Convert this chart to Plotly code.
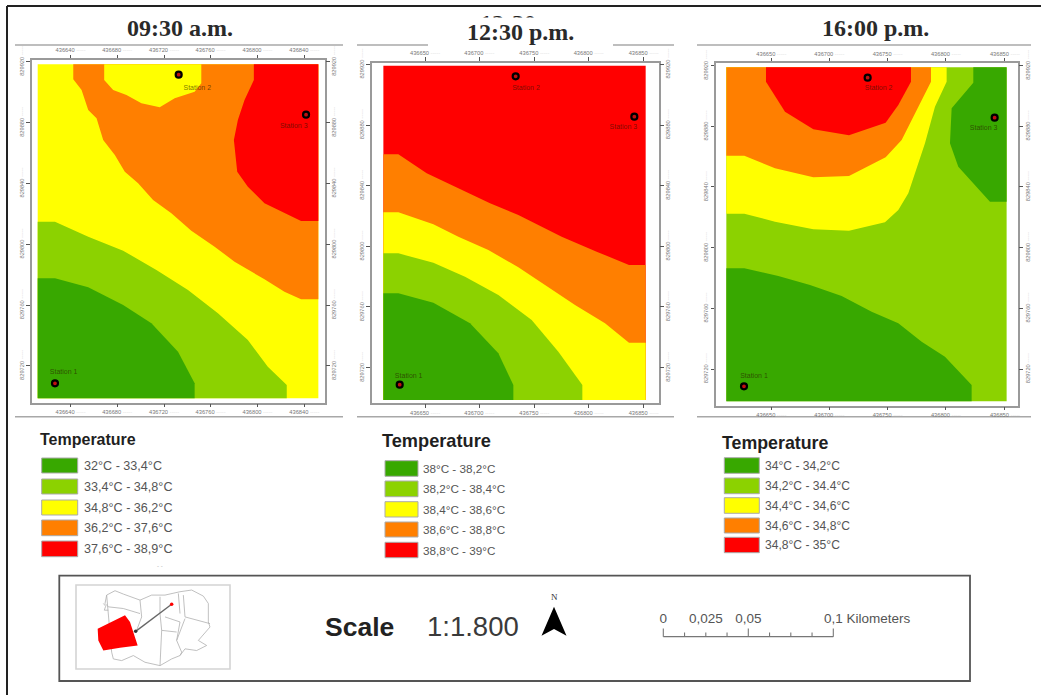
import plotly.graph_objects as go

W, H = 1041, 695
GREEN, LIME, YEL, ORG, RED = "#38A800", "#8CD200", "#FFFF00", "#FF7F00", "#FF0000"
CLASS_COLORS = [GREEN, LIME, YEL, ORG, RED]

# ---------- data: contours, in each map's grid units ----------
p1_rect = [(68, 73), (912, 73), (912, 1075), (68, 1075)]
p1_orange = [(175,73),(175,118),(200,150),(220,210),(245,235),(265,300),(300,345),(330,395),(370,430),(415,480),
             (470,520),(530,572),(600,620),(660,665),(750,718),(810,755),(860,778),(912,778),(912,73)]
p1_yellow_hole = [(268,73),(268,120),(295,150),(335,165),(380,190),(435,202),(480,175),(540,155),(560,130),(560,73)]
p1_red = [(718,73),(718,120),(690,180),(670,240),(658,300),(668,395),(700,440),(750,490),(860,543),(912,543),(912,73)]
p1_lime = [(68,545),(120,545),(220,590),(325,632),(425,690),(520,750),(610,820),(700,900),(760,980),(817,1035),(817,1075),(68,1075)]
p1_green = [(68,715),(120,715),(220,742),(325,795),(410,850),(490,935),(540,1030),(540,1075),(68,1075)]
p1_layers = [(p1_rect, YEL), (p1_orange, ORG), (p1_yellow_hole, YEL), (p1_red, RED), (p1_lime, LIME), (p1_green, GREEN)]
p1_stations = [(120,1030),(492,104),(875,224)]
p1_station_labels = [(146,998),(548,145),(838,258)]

p2_rect = [(85,77),(872,77),(872,1080),(85,1080)]
p2_orange = [(85,343),(130,343),(215,400),(310,445),(405,490),(490,525),(620,590),(725,635),(822,675),(872,675),(872,1080),(85,1080)]
p2_yellow = [(85,517),(130,517),(235,553),(310,590),(400,630),(490,682),(570,735),(660,795),(750,850),(822,908),(872,908),(872,1080),(85,1080)]
p2_lime = [(85,640),(130,640),(235,668),(330,710),(430,765),(530,840),(610,935),(682,1035),(682,1080),(85,1080)]
p2_green = [(85,760),(130,760),(235,788),(345,850),(430,940),(475,1035),(475,1080),(85,1080)]
p2_layers = [(p2_rect, RED), (p2_orange, ORG), (p2_yellow, YEL), (p2_lime, LIME), (p2_green, GREEN)]
p2_stations = [(134,1034),(482,109),(838,230)]
p2_station_labels = [(161,1010),(513,145),(805,261)]

p3_rect = [(94,82),(935,82),(935,1084),(94,1084)]
p3_yellow = [(94,521),(148,521),(240,545),(355,568),(462,572),(570,547),(610,510),(640,460),(660,400),(690,310),(720,200),(755,125),(755,82),(94,82)]
p3_orange = [(94,347),(148,347),(240,385),(355,412),(462,408),(572,352),(620,300),(680,180),(708,125),(708,82),(94,82)]
p3_red = [(213,82),(213,125),(270,215),(355,268),(462,286),(572,248),(610,195),(648,125),(648,82)]
p3_green_ne = [(835,82),(835,128),(770,205),(765,310),(790,380),(885,485),(935,485),(935,82)]
p3_green_sw = [(94,685),(148,685),(250,708),(345,735),(440,768),(530,815),(610,850),(680,905),(750,950),(830,1035),(830,1084),(94,1084)]
p3_layers = [(p3_rect, LIME), (p3_yellow, YEL), (p3_orange, ORG), (p3_red, RED), (p3_green_ne, GREEN), (p3_green_sw, GREEN)]
p3_stations = [(147,1039),(518,113),(899,233)]
p3_station_labels = [(177,1010),(551,145),(866,265)]

station_names = ["Station 1", "Station 2", "Station 3"]

p1_xticks, p1_xlabels = [167,307,448,588,729,870], ["436640","436680","436720","436760","436800","436840"]
p1_yticks = [65,248,430,613,795,977]
p2_xticks, p2_xlabels = [210,373,538,701,866], ["436650","436700","436750","436800","436850"]
p2_yticks = [73,255,437,619,801,983]
p3_xticks, p3_xlabels = [229,403,578,753,930], ["436650","436700","436750","436800","436850"]
p3_yticks = [77,259,441,623,805,987]
northing_labels = ["829920","829880","829840","829800","829760","829720"]

titles = ["09:30 a.m.", "12:30 p.m.", "16:00 p.m."]
legend_1 = ["32°C - 33,4°C","33,4°C - 34,8°C","34,8°C - 36,2°C","36,2°C - 37,6°C","37,6°C - 38,9°C"]
legend_2 = ["38°C - 38,2°C","38,2°C - 38,4°C","38,4°C - 38,6°C","38,6°C - 38,8°C","38,8°C - 39°C"]
legend_3 = ["34°C - 34,2°C","34,2°C - 34.4°C","34,4°C - 34,6°C","34,6°C - 34,8°C","34,8°C - 35°C"]

inset_red = [(98,145),(130,130),(180,105),(195,125),(218,195),(165,202),(115,210),(100,180)]
inset_outline = [(125,45),(150,32),(175,42),(225,60),(260,45),(300,45),(345,35),(380,30),(415,48),(430,70),(430,125),
                 (435,140),(400,180),(425,195),(395,210),(360,205),(345,225),(320,235),(285,255),(240,245),(205,225),
                 (170,240),(145,235),(140,215)]
inset_coast = [(125,45),(120,70),(130,80),(175,85),(225,100)]
inset_roads = [[(225,60),(230,110),(215,150)], [(285,50),(285,100),(290,150),(285,255)], [(340,40),(345,100)],
               [(355,45),(360,110),(435,130)], [(300,110),(345,125),(335,180),(350,215),(345,225)],
               [(290,150),(335,155)], [(360,115),(335,180)], [(115,70),(122,78),(118,90),(130,90)]]
inset_link = [(212,153),(320,72)]

scale_km_major = [0, 0.05, 0.1]
scale_km_minor = [0.0125, 0.025, 0.0375, 0.0625, 0.075, 0.0875]
scale_labels = [(0,"0"),(0.025,"0,025"),(0.05,"0,05")]
scale_end_label = (0.0945,"0,1 Kilometers")

# ---------- layout geometry (pixels) ----------
def xdom(a, b): return [a / W, b / W]
def ydom(a, b): return [1 - b / H, 1 - a / H]

fig = go.Figure()
layout = dict(
    template="none",
    width=W, height=H, margin=dict(l=0, r=0, t=0, b=0, pad=0, autoexpand=False), autosize=False,
    paper_bgcolor="white", plot_bgcolor="rgba(0,0,0,0)", showlegend=False,
    font=dict(family="Liberation Sans"),
)
hidden = dict(visible=False, fixedrange=True, automargin=False)
layout["xaxis"] = dict(hidden, domain=[0, 1], range=[0, W])
layout["yaxis"] = dict(hidden, domain=[0, 1], range=[H, 0])

TICK_FONT = dict(size=5.7, color="#777777", family="Liberation Sans")
def dash(t):
    return t + ' <span style="color:#dddddd">-----</span>'

def add_panel(n, box, xr, yr, xticks, xlabels, yticks, layers, stations, st_labels):
    a, b = n, n + 1
    x1, y1, x2, y2 = box
    common = dict(fixedrange=True, showgrid=False, zeroline=False, ticks="outside", ticklen=3.5, automargin=False,
                  tickwidth=1, tickcolor="#555555", tickfont=TICK_FONT, tickmode="array")
    xt = dict(tickvals=xticks, ticktext=[dash(t) for t in xlabels], tickangle=0)
    yt = dict(tickvals=yticks, ticktext=[dash(t) for t in northing_labels], tickangle=-90)
    layout[f"xaxis{a}"] = dict(common, **xt, domain=xdom(x1, x2), range=xr, side="top", anchor=f"y{a}",
                               showline=True, mirror=True, linecolor="#9a9a9a", linewidth=2)
    layout[f"yaxis{a}"] = dict(common, **yt, domain=ydom(y1, y2), range=yr, side="left", anchor=f"x{a}",
                               showline=True, mirror=True, linecolor="#9a9a9a", linewidth=2)
    layout[f"xaxis{b}"] = dict(common, **xt, domain=xdom(x1, x2), range=xr, side="bottom", anchor=f"y{b}",
                               overlaying=f"x{a}", showline=False)
    layout[f"yaxis{b}"] = dict(common, **yt, domain=ydom(y1, y2), range=yr, side="right", anchor=f"x{b}",
                               overlaying=f"y{a}", showline=False)
    fig.add_trace(go.Scatter(x=[xr[0]], y=[yr[0]], xaxis=f"x{b}", yaxis=f"y{b}", mode="none", hoverinfo="skip"))
    for poly, col in layers:
        xs = [p[0] for p in poly] + [poly[0][0]]
        ys = [p[1] for p in poly] + [poly[0][1]]
        fig.add_trace(go.Scatter(x=xs, y=ys, xaxis=f"x{a}", yaxis=f"y{a}", mode="lines", fill="toself",
                                 fillcolor=col, line=dict(width=0, color=col), hoverinfo="skip"))
    fig.add_trace(go.Scatter(x=[p[0] for p in stations], y=[p[1] for p in stations], xaxis=f"x{a}", yaxis=f"y{a}",
                             mode="markers", marker=dict(size=6, color="#C01010", line=dict(color="black", width=2.2)),
                             hoverinfo="skip"))
    fig.add_trace(go.Scatter(x=[p[0] for p in st_labels], y=[p[1] for p in st_labels], xaxis=f"x{a}", yaxis=f"y{a}",
                             mode="text", text=station_names, textposition="middle center",
                             textfont=dict(size=7, color="rgba(40,20,0,0.62)", family="Liberation Sans"),
                             hoverinfo="skip"))

# clipped duplicate title, covered by the white patch below
fig.add_trace(go.Scatter(x=[508], y=[25], mode="text", text=["<b>12:30</b>"], xaxis="x", yaxis="y",
                         textfont=dict(size=24, color="#222222", family="Liberation Serif"), hoverinfo="skip"))

add_panel(2, (31.7, 60, 325, 402.7), [50, 932], [1088, 60], p1_xticks, p1_xlabels, p1_yticks, p1_layers, p1_stations, p1_station_labels)
add_panel(4, (371.7, 62.7, 659, 403.3), [50, 912], [1090, 68], p2_xticks, p2_xlabels, p2_yticks, p2_layers, p2_stations, p2_station_labels)
add_panel(6, (716, 63.3, 1018.3, 405.7), [63, 970], [1097, 70], p3_xticks, p3_xlabels, p3_yticks, p3_layers, p3_stations, p3_station_labels)

# inset locator map
layout["xaxis8"] = dict(hidden, domain=xdom(76, 230), range=[33, 495], anchor="y8")
layout["yaxis8"] = dict(hidden, domain=ydom(585, 669), range=[265, 15], anchor="x8")
def inset_line(pts, color="#b0b0b0", width=0.8, closed=False):
    pts = list(pts) + ([pts[0]] if closed else [])
    fig.add_trace(go.Scatter(x=[p[0] for p in pts], y=[p[1] for p in pts], xaxis="x8", yaxis="y8", mode="lines",
                             line=dict(color=color, width=width), hoverinfo="skip"))
inset_line(inset_outline, closed=True)
inset_line(inset_coast)
for r in inset_roads:
    inset_line(r)
fig.add_trace(go.Scatter(x=[p[0] for p in inset_red] + [inset_red[0][0]], y=[p[1] for p in inset_red] + [inset_red[0][1]],
                         xaxis="x8", yaxis="y8", mode="lines", fill="toself", fillcolor=RED,
                         line=dict(width=0, color=RED), hoverinfo="skip"))
inset_line(inset_link, color="#666666", width=1.3)
fig.add_trace(go.Scatter(x=[inset_link[0][0]], y=[inset_link[0][1]], xaxis="x8", yaxis="y8", mode="markers",
                         marker=dict(size=3.5, color="#333333"), hoverinfo="skip"))
fig.add_trace(go.Scatter(x=[inset_link[1][0]], y=[inset_link[1][1]], xaxis="x8", yaxis="y8", mode="markers",
                         marker=dict(size=3.5, color=RED), hoverinfo="skip"))

# scale bar: own axis in kilometres
PX_PER_KM = 170 / 0.1
layout["xaxis9"] = dict(hidden, domain=xdom(660, 920), range=[-3.3 / PX_PER_KM, 256.7 / PX_PER_KM], anchor="y9")
layout["yaxis9"] = dict(hidden, domain=ydom(610, 640), range=[0, 30], anchor="x9")
bar_x, bar_y = [0, 0.1], [3.3, 3.3]
fig.add_trace(go.Scatter(x=bar_x, y=bar_y, xaxis="x9", yaxis="y9", mode="lines", line=dict(color="#777777", width=1.2), hoverinfo="skip"))
for km in scale_km_major + scale_km_minor:
    top = 11.5 if km in scale_km_major else 7.5
    fig.add_trace(go.Scatter(x=[km, km], y=[3.3, top], xaxis="x9", yaxis="y9", mode="lines",
                             line=dict(color="#777777", width=1.1), hoverinfo="skip"))
fig.add_trace(go.Scatter(x=[k for k, _ in scale_labels], y=[20.5] * len(scale_labels), xaxis="x9", yaxis="y9", mode="text",
                         text=[t for _, t in scale_labels], textposition="middle center", cliponaxis=False,
                         textfont=dict(size=13.5, color="#555555"), hoverinfo="skip"))
fig.add_trace(go.Scatter(x=[scale_end_label[0]], y=[20.5], xaxis="x9", yaxis="y9", mode="text",
                         text=[scale_end_label[1]], textposition="middle right", cliponaxis=False,
                         textfont=dict(size=13.5, color="#555555"), hoverinfo="skip"))

# shapes
shapes = []
def seg(x0, y0, x1, y1, color, width):
    shapes.append(dict(type="line", xref="x", yref="y", x0=x0, y0=y0, x1=x1, y1=y1, line=dict(color=color, width=width), layer="below"))
seg(7, 6, 1041, 6, "#222222", 2)
seg(7, 6, 7, 695, "#222222", 2)
for x0, x1 in [(15, 343), (357, 674), (697, 1031)]:
    seg(x0, 45, x1, 45, "#a8a8a8", 1.6)
    seg(x0, 416.7, x1, 416.7, "#a8a8a8", 1.6)
shapes.append(dict(type="rect", xref="x", yref="y", x0=428, x1=613, y0=17.5, y1=46, fillcolor="white", line=dict(width=0), layer="above"))
shapes.append(dict(type="rect", xref="x", yref="y", x0=59.3, x1=970, y0=575.7, y1=681, line=dict(color="#555555", width=1.8), layer="below"))
shapes.append(dict(type="rect", xref="x", yref="y", x0=76, x1=230, y0=585, y1=669, line=dict(color="#d4d4d4", width=1.6), layer="below"))
shapes.append(dict(type="path", xref="x", yref="y", path="M554,606.7 L566.5,635.7 L554,629 L541.5,635.7 Z", fillcolor="black", line=dict(width=0), layer="above"))

# panel titles and legends
ann = []
def text(x, y, s, size, color="#333333", family="Liberation Sans", anchor="left"):
    ann.append(dict(xref="x", yref="y", x=x - (2 if anchor == "left" else 0), y=y, text=s, showarrow=False,
                    xanchor=anchor, yanchor="middle", font=dict(size=size, color=color, family=family)))
for cx, cy, t in zip([179.5, 520, 875], [28, 31.5, 28], titles):
    text(cx, cy, f"<b>{t}</b>", 24, "#2a2a2a", "Liberation Serif", "center")

legend_specs = [
    (41.7, 77.7, 84, 12.6, 16, 40, 439, [(458,473),(479,494),(500,515),(520,535.7),(541,556.7)], legend_1),
    (385, 418, 423, 11.7, 18.2, 381.7, 440.7, [(460.7,476.3),(481,496.7),(501.7,517),(522,537),(542.3,557.7)], legend_2),
    (724.3, 759.3, 765.3, 12.1, 17.8, 721.7, 443, [(457.7,473.3),(478,493.7),(497.7,513.3),(518,533),(537.3,552.7)], legend_3),
]
for sx0, sx1, tx, fs, hs, hx, hy, ys, labels in legend_specs:
    text(hx, hy, "<b>Temperature</b>", hs, "#1f1f1f")
    for (y0, y1), lab, col in zip(ys, labels, CLASS_COLORS):
        shapes.append(dict(type="rect", xref="x", yref="y", x0=sx0, x1=sx1, y0=y0, y1=y1, fillcolor=col,
                           line=dict(color="#ababab", width=1), layer="below"))
        text(tx, (y0 + y1) / 2, lab, fs, "#555555")
text(160, 566, "- -", 6, "#aaaaaa", anchor="center")

text(325, 627, "<b>Scale</b>", 26.5, "#222222")
text(427, 626, "1:1.800", 27.5, "#3a3a3a")
text(554, 597, "N", 9, "#333333", "Liberation Serif", "center")

layout["shapes"] = shapes
layout["annotations"] = ann
fig.update_layout(**layout)

fig.write_html("out.html", post_script="document.body.style.margin='0';document.body.style.overflow='hidden';",
               config=dict(displayModeBar=False))
